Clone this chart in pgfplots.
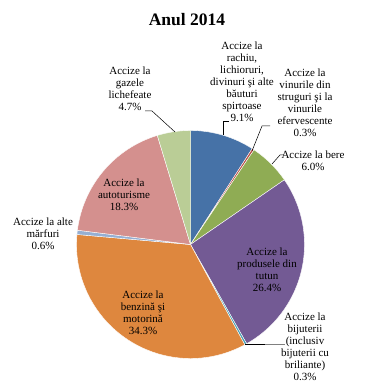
\documentclass[border=0pt]{standalone}
\usepackage{pgfplots}
\pgfplotsset{compat=1.18}
\usepackage{pgfplotstable}
\usepackage{fontspec}
\setmainfont{Liberation Serif}
\definecolor{cBlue}{RGB}{70,114,167}
\definecolor{cRed}{RGB}{185,75,70}
\definecolor{cGreen}{RGB}{143,172,84}
\definecolor{cPurple}{RGB}{115,90,148}
\definecolor{cCyan}{RGB}{70,160,182}
\definecolor{cOrange}{RGB}{222,135,62}
\definecolor{cLBlue}{RGB}{150,175,210}
\definecolor{cPink}{RGB}{212,144,142}
\definecolor{cLGreen}{RGB}{186,205,150}
\pgfplotstableread{
pct col
9.1 cBlue
0.3 cRed
6.0 cGreen
26.4 cPurple
0.3 cCyan
34.3 cOrange
0.6 cLBlue
18.3 cPink
4.7 cLGreen
}\piedata
\begin{document}
\begin{tikzpicture}
\useasboundingbox (0,0) rectangle (376pt,389pt);
\begin{axis}[
  at={(0,0)}, anchor=origin,
  scale only axis, width=376pt, height=389pt,
  xmin=0, xmax=376, ymin=0, ymax=389,
  hide axis, clip=false,
]
\pgfplotstablegetrowsof{\piedata}
\pgfmathtruncatemacro\nrows{\pgfplotsretval-1}
\gdef\angstart{90}
\pgfplotsforeachungrouped \i in {0,...,\nrows}{%
  \pgfplotstablegetelem{\i}{pct}\of\piedata \let\p\pgfplotsretval
  \pgfplotstablegetelem{\i}{col}\of\piedata \let\c\pgfplotsretval
  \pgfmathsetmacro\angend{\angstart-3.6*\p}%
  \edef\temp{\noexpand\fill[\c, draw=white, line width=0.4pt, line join=round] (axis cs:190.5,144.5) -- ++(\angstart:114pt) arc[start angle=\angstart, end angle=\angend, radius=114pt] -- cycle;}%
  \temp
  \global\let\angstart\angend
}
\tikzset{lbl/.style={align=center, font=\fontsize{11}{12}\selectfont, inner sep=0pt}}
\node[font=\fontsize{17.5}{19}\selectfont\bfseries] at (axis cs:187,369) {Anul 2014};
\node[lbl] at (axis cs:242,307) {Accize la\\rachiu,\\lichioruri,\\divinuri şi alte\\băuturi\\spirtoase\\9.1\%};
\node[lbl] at (axis cs:305,286) {Accize la\\vinurile din\\struguri şi la\\vinurile\\efervescente\\0.3\%};
\node[lbl] at (axis cs:313,228) {Accize la bere\\6.0\%};
\node[lbl] at (axis cs:267,119) {Accize la\\produsele din\\tutun\\26.4\%};
\node[lbl] at (axis cs:305,42) {Accize la\\bijuterii\\(inclusiv\\bijuterii cu\\briliante)\\0.3\%};
\node[lbl] at (axis cs:143,76) {Accize la\\benzină şi\\motorină\\34.3\%};
\node[lbl] at (axis cs:43,155) {Accize la alte\\mărfuri\\0.6\%};
\node[lbl] at (axis cs:124,194) {Accize la\\autoturisme\\18.3\%};
\node[lbl] at (axis cs:130,300) {Accize la\\gazele\\lichefeate\\4.7\%};
\draw[black, line width=0.5pt] (axis cs:229,268) -- (axis cs:223,268) -- (axis cs:223,254);
\draw[black, line width=0.5pt] (axis cs:270,263) -- (axis cs:262,263) -- (axis cs:252,238);
\draw[black, line width=0.5pt] (axis cs:284,234) -- (axis cs:280,234) -- (axis cs:272,225);
\draw[black, line width=0.5pt] (axis cs:245,45) -- (axis cs:265,45);
\draw[gray, line width=0.5pt] (axis cs:265,45) -- (axis cs:285,45);
\draw[black, line width=0.5pt] (axis cs:145,278) -- (axis cs:152,278) -- (axis cs:175,257);
\end{axis}
\end{tikzpicture}
\end{document}
